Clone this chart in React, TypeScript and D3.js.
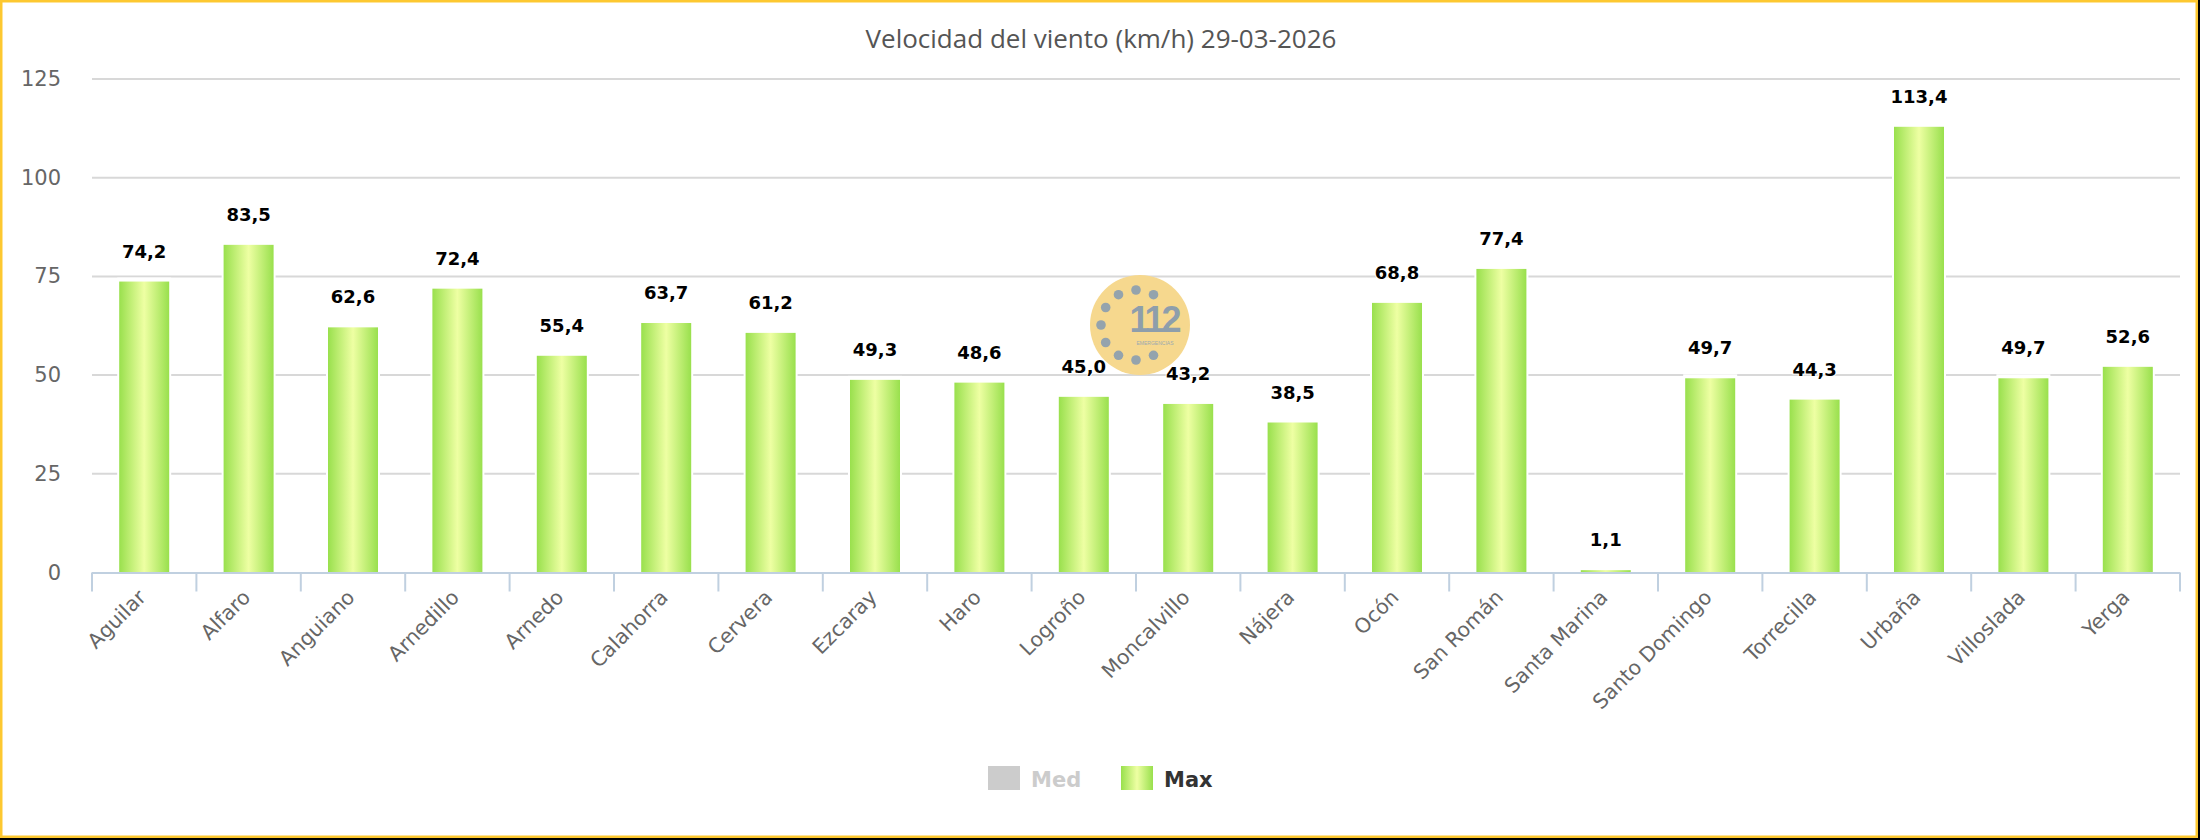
import React from 'react';
import * as d3 from 'd3';

const width = 2200;
const height = 840;
const margin = { top: 79, right: 20, bottom: 267.5, left: 92 };

// stations and their max wind speed (km/h)
const stations = [
  'Aguilar', 'Alfaro', 'Anguiano', 'Arnedillo', 'Arnedo', 'Calahorra', 'Cervera',
  'Ezcaray', 'Haro', 'Logroño', 'Moncalvillo', 'Nájera', 'Ocón', 'San Román',
  'Santa Marina', 'Santo Domingo', 'Torrecilla', 'Urbaña', 'Villoslada', 'Yerga',
];
const maxSpeed = [
  74.2, 83.5, 62.6, 72.4, 55.4, 63.7, 61.2, 49.3, 48.6, 45.0,
  43.2, 38.5, 68.8, 77.4, 1.1, 49.7, 44.3, 113.4, 49.7, 52.6,
];
const seriesNames = ['Med', 'Max'];
const yTicks = [0, 25, 50, 75, 100, 125];
const title = 'Velocidad del viento (km/h) 29-03-2026';

const esFormat = d3.formatLocale({ decimal: ',', thousands: '.', grouping: [3], currency: ['', '€'] }).format('.1f');

const tickFont = '"DejaVu Sans", sans-serif';

function Logo({ cx, cy }: { cx: number; cy: number }) {
  // dots of the 112 badge, a ring open on the right side
  const angles = [-60, -90, -120, -150, 180, 150, 120, 90, 60];
  return (
    <g>
      <circle cx={cx} cy={cy} r={50} fill="#f6d88e" />
      {angles.map((a, i) => (
        <circle key={i}
          cx={cx - 4 + 35 * Math.cos((a * Math.PI) / 180)}
          cy={cy + 35 * Math.sin((a * Math.PI) / 180)}
          r={4.8} fill="#94a3ad" />
      ))}
      <text x={cx + 14} y={cy + 7} textAnchor="middle" fill="#8e9eab"
        style={{ font: 'bold 36px "Liberation Sans", sans-serif', letterSpacing: '-3px' }}>112</text>
      <text x={cx + 15} y={cy + 20} textAnchor="middle" fill="#9aa8b2"
        style={{ font: '5px "Liberation Sans", sans-serif' }}>EMERGENCIAS</text>
    </g>
  );
}

export default function App() {
  const xScale = d3.scaleBand<string>()
    .domain(stations)
    .range([margin.left, width - margin.right]);
  const yScale = d3.scaleLinear()
    .domain([0, 125])
    .range([height - margin.bottom, margin.top]);

  const baseline = yScale(0);
  const bw = xScale.bandwidth();
  const barWidth = 50;

  // tick marks sit on category boundaries
  const boundaries = d3.range(stations.length + 1).map(i => margin.left + i * bw);

  return (
    <svg width={width} height={height} style={{ position: 'absolute', left: 0, top: 0 }}>
      <defs>
        <linearGradient id="barFill" x1="0" x2="1" y1="0" y2="0">
          <stop offset="0%" stopColor="#99e04d" />
          <stop offset="50%" stopColor="#eeffa3" />
          <stop offset="100%" stopColor="#99e04d" />
        </linearGradient>
      </defs>

      {/* frame */}
      <rect x={0} y={0} width={width} height={height} fill="#000" />
      <rect x={0} y={0} width={2198} height={838} fill="#fdc830" />
      <rect x={2.5} y={2.5} width={2193} height={833} fill="#fff" />

      <text x={width / 2 + 1} y={48} textAnchor="middle" fill="#555"
        style={{ font: '26px "Open Sans", sans-serif' }}>{title}</text>

      {/* grid */}
      {yTicks.filter(t => t > 0).map(t => (
        <line key={t} x1={margin.left} x2={width - margin.right} y1={yScale(t)} y2={yScale(t)}
          stroke="#d8d8d8" strokeWidth={2} />
      ))}
      {yTicks.map(t => (
        <text key={t} x={61} y={yScale(t) + 7} textAnchor="end" fill="#666"
          style={{ font: `21px ${tickFont}` }}>{t}</text>
      ))}

      <Logo cx={1140} cy={325} />

      {/* bars */}
      {maxSpeed.map((v, i) => {
        const cx = xScale(stations[i])! + bw / 2;
        const y = yScale(v);
        return (
          <g key={stations[i]}>
            <rect x={cx - barWidth / 2 - 2} y={y - 2} width={barWidth + 4} height={baseline - y + 2} fill="#fff" />
            <rect x={cx - barWidth / 2} y={y + 2} width={barWidth} height={Math.max(0, baseline - y - 2)} fill="url(#barFill)" />
          </g>
        );
      })}

      {/* x axis */}
      <line x1={margin.left} x2={width - margin.right} y1={baseline + 0.5} y2={baseline + 0.5}
        stroke="#c0d0e0" strokeWidth={2} />
      {boundaries.map((x, i) => (
        <line key={i} x1={x} x2={x} y1={baseline} y2={baseline + 19} stroke="#c0d0e0" strokeWidth={2} />
      ))}
      {stations.map(s => {
        const cx = xScale(s)! + bw / 2 + 3;
        const ty = baseline + 26;
        return (
          <text key={s} x={cx} y={ty} transform={`rotate(-45 ${cx} ${ty})`} textAnchor="end" fill="#666"
            style={{ font: `20.5px ${tickFont}` }}>{s}</text>
        );
      })}

      {/* value labels */}
      {maxSpeed.map((v, i) => (
        <text key={i} x={xScale(stations[i])! + bw / 2} y={yScale(v) - 22} textAnchor="middle" fill="#000"
          stroke="#fff" strokeWidth={2} paintOrder="stroke"
          style={{ font: `bold 18px ${tickFont}` }}>{esFormat(v)}</text>
      ))}

      {/* legend */}
      <g>
        <rect x={988} y={766} width={32} height={24} fill="#cccccc" />
        <text x={1031} y={787} fill="#cccccc" style={{ font: `bold 21px ${tickFont}` }}>{seriesNames[0]}</text>
        <rect x={1121} y={766} width={32} height={24} fill="url(#barFill)" />
        <text x={1164} y={787} fill="#333" style={{ font: `bold 21px ${tickFont}` }}>{seriesNames[1]}</text>
      </g>
    </svg>
  );
}
